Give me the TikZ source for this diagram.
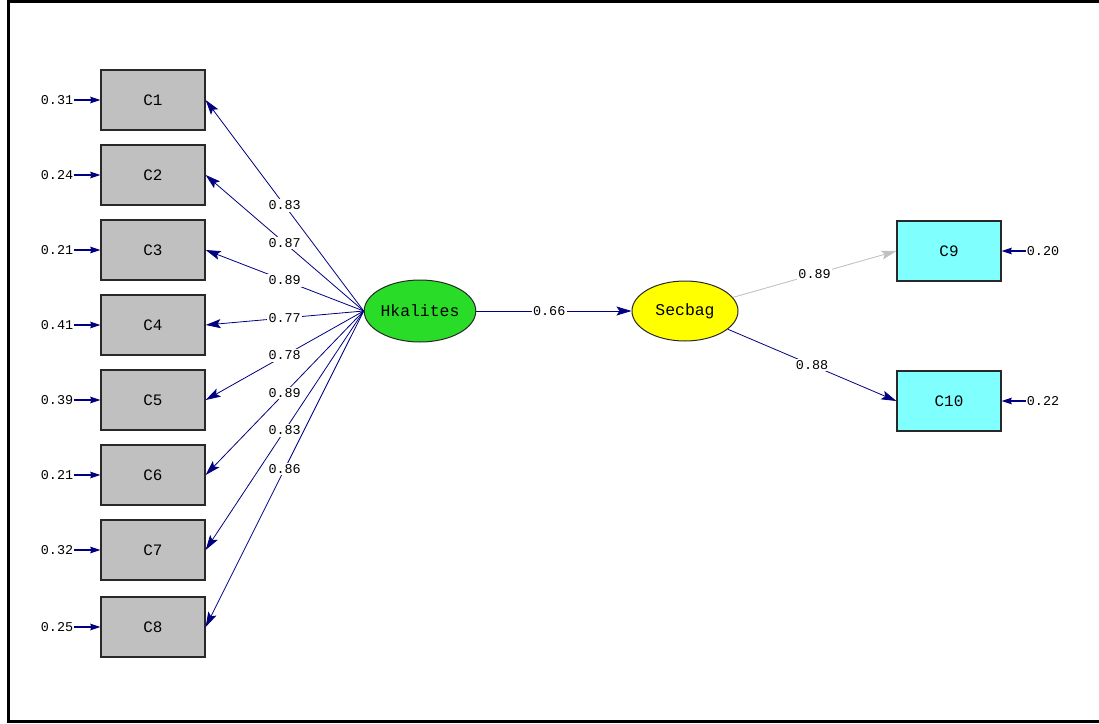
\documentclass[tikz,border=0pt]{standalone}
\usepackage{fontspec}
\newfontfamily\pathfont{Liberation Mono}
\usetikzlibrary{arrows.meta,shapes.geometric}
\definecolor{obsgray}{RGB}{192,192,192}
\definecolor{latgreen}{RGB}{40,220,40}
\definecolor{latyellow}{RGB}{255,255,0}
\definecolor{obscyan}{RGB}{128,255,255}
\definecolor{navy}{RGB}{0,0,128}
\definecolor{edgegray}{RGB}{40,40,40}
\tikzset{
  obsbox/.style={draw=edgegray, line width=1.3bp, fill=obsgray, minimum width=104bp,
    minimum height=60bp, inner sep=0pt, font=\pathfont\fontsize{16}{16}\selectfont},
  cyanbox/.style={obsbox, fill=obscyan},
  latent/.style={ellipse, draw=edgegray, line width=1bp, minimum width=110bp,
    minimum height=62bp, inner sep=0pt, font=\pathfont\fontsize{16.5}{16.5}\selectfont},
  coef/.style={fill=white, inner sep=1.5bp, font=\pathfont\fontsize{13.5}{13.5}\selectfont},
  errlbl/.style={inner sep=1bp, font=\pathfont\fontsize{13.5}{13.5}\selectfont},
  load/.style={draw=navy, line width=0.8bp, -{Stealth[length=15bp,width=9bp,inset=3bp]}},
  errarrow/.style={draw=navy, line width=1.3bp, -{Stealth[length=10bp,width=6.5bp,inset=1bp]}},
}
\begin{document}
\begin{tikzpicture}[x=1bp,y=-1bp]
\useasboundingbox (0,0) rectangle (1099,724);
\fill[white] (0,0) rectangle (1099,724);
% outer frame
\draw[line width=3bp] (1099,1.5) -- (8.5,1.5) -- (8.5,721) -- (1099,721);

% observed indicators of Hkalites
\foreach \i/\y in {1/100,2/175,3/250,4/325,5/400,6/475,7/550,8/627}
  \node[obsbox] (C\i) at (153,\y) {C\i};

% latent variables
\node[latent, fill=latgreen] (H) at (420,311) {Hkalites};
\node[latent, fill=latyellow, minimum width=106bp, minimum height=60bp] (S) at (685,311) {Secbag};

% indicators of Secbag
\node[cyanbox] (C9) at (949,251) {C9};
\node[cyanbox] (C10) at (949,401) {C10};

% error variances, left side
\foreach \i/\v in {1/0.31,2/0.24,3/0.21,4/0.41,5/0.39,6/0.21,7/0.32,8/0.25}{
  \node[errlbl, anchor=east] (e\i) at (C\i.west) [xshift=-26bp] {\v};
  \draw[errarrow] (e\i.east) -- (C\i.west);
}
% error variances, right side
\node[errlbl, anchor=west] (e9) at (C9.east) [xshift=24bp] {0.20};
\node[errlbl, anchor=west] (e10) at (C10.east) [xshift=24bp] {0.22};
\draw[errarrow] (e9.west) -- (C9.east);
\draw[errarrow] (e10.west) -- (C10.east);

% factor loadings
\foreach \i/\v in {1/0.83,2/0.87,3/0.89,4/0.77,5/0.78,6/0.89,7/0.83,8/0.86}
  \draw[load] (H.west) -- (C\i.east) node[coef, pos=0.5] {\v};

% structural path
\draw[load] (H.east) -- (S.west) node[coef, pos=0.47] {0.66};

% Secbag loadings
\draw[load, draw=obsgray, fill=obsgray] (S) -- (C9.west) node[coef, pos=0.5] {0.89};
\draw[load] (S) -- (C10.west) node[coef, pos=0.5] {0.88};
\end{tikzpicture}
\end{document}
